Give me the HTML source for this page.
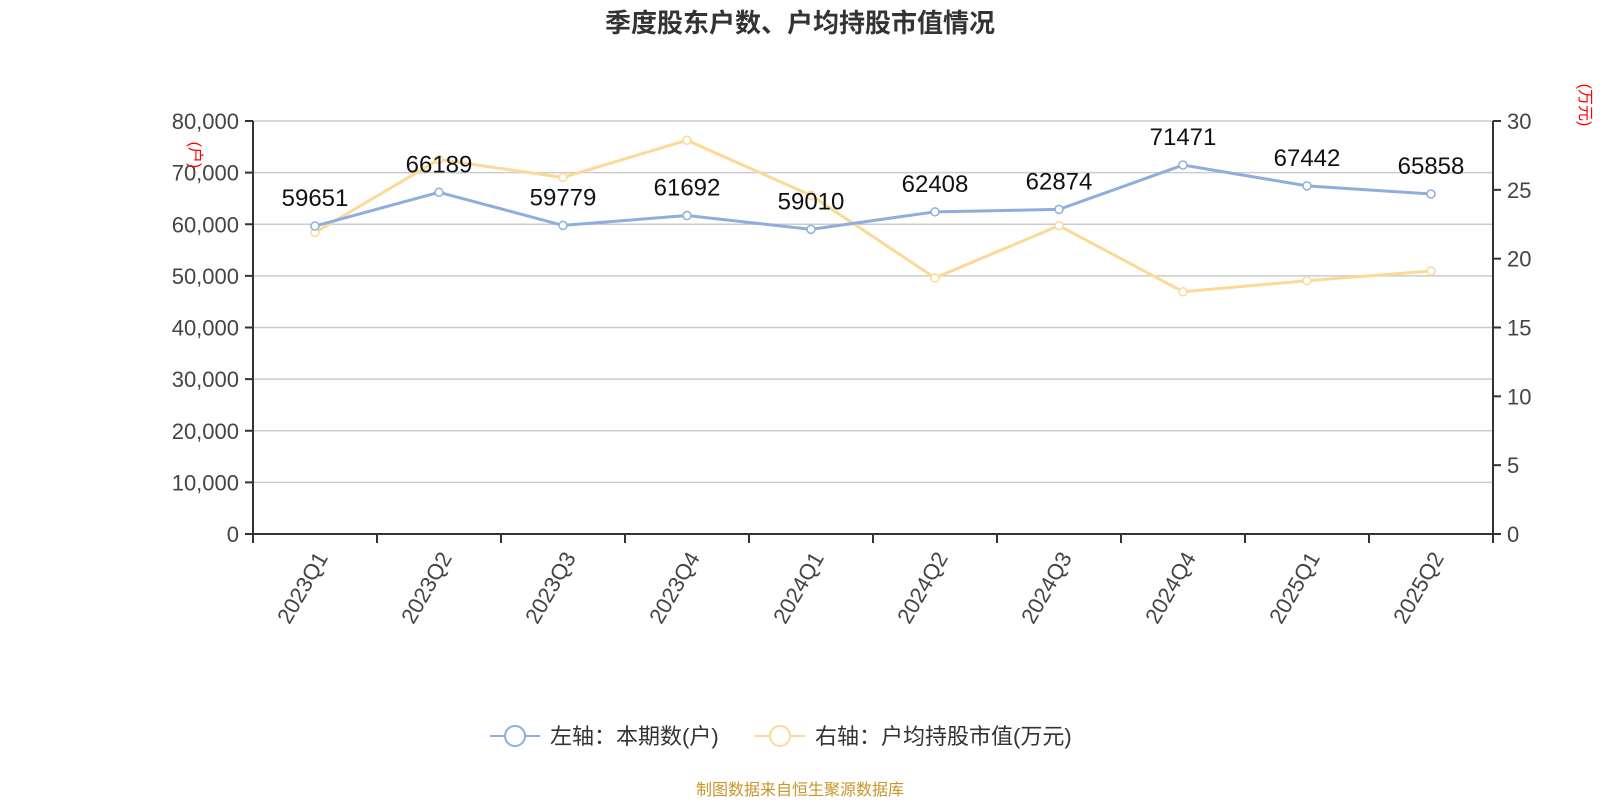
<!DOCTYPE html>
<html><head><meta charset="utf-8"><style>
body{margin:0;background:#fff;width:1600px;height:800px;overflow:hidden;font-family:"Liberation Sans","Noto Sans CJK SC",sans-serif}
</style></head><body>
<svg width="1600" height="800" xmlns="http://www.w3.org/2000/svg" style="font-family:'Liberation Sans','Noto Sans CJK SC',sans-serif">
<text x="800" y="32" text-anchor="middle" font-size="26" font-weight="bold" fill="#333">季度股东户数、户均持股市值情况</text>
<g id="grid"></g><g id="axes"></g><g id="series"></g>
<text x="1580" y="105" font-size="16" fill="red" transform="rotate(90 1580 105)" text-anchor="middle">(万元)</text>
<text x="190" y="155" font-size="16" fill="red" transform="rotate(90 190 155)" text-anchor="middle">(户)</text>
<g>
<g><line x1="490" y1="736" x2="540" y2="736" stroke="#8eaedd" stroke-width="2"/><circle cx="515" cy="736" r="10" fill="#fff" stroke="#8eaedd" stroke-width="2"/><text x="550" y="744" font-size="22" fill="#333">左轴：本期数(户)</text></g>
<g><line x1="755" y1="736" x2="805" y2="736" stroke="#fcd997" stroke-width="2"/><circle cx="780" cy="736" r="10" fill="#fff" stroke="#fcd997" stroke-width="2"/><text x="815" y="744" font-size="22" fill="#333">右轴：户均持股市值(万元)</text></g>
</g>
<text x="800" y="795" text-anchor="middle" font-size="16" fill="#c8962a">制图数据来自恒生聚源数据库</text>
</svg>
<script>
const categories=["2023Q1","2023Q2","2023Q3","2023Q4","2024Q1","2024Q2","2024Q3","2024Q4","2025Q1","2025Q2"];
const holders=[59651,66189,59779,61692,59010,62408,62874,71471,67442,65858];
const avgValue=[21.9,27.2,25.9,28.6,24.6,18.6,22.4,17.6,18.4,19.1];
const leftTicks=[0,10000,20000,30000,40000,50000,60000,70000,80000];
const rightTicks=[0,5,10,15,20,25,30];
const NS="http://www.w3.org/2000/svg";
const X0=253,X1=1493,Y0=534,Y1=121;
const bw=(X1-X0)/categories.length;
const xc=i=>X0+bw*(i+0.5);
const yl=v=>Y0-(v/80000)*(Y0-Y1);
const yr=v=>Y0-(v/30)*(Y0-Y1);
function mk(t,a,p){const e=document.createElementNS(NS,t);for(const k in a)e.setAttribute(k,a[k]);p.appendChild(e);return e;}
const grid=document.getElementById('grid'),axes=document.getElementById('axes'),series=document.getElementById('series');
leftTicks.forEach(v=>{
 const l=mk('line',{x1:X0,x2:X1,y1:yl(v),y2:yl(v),stroke:'#ccc','stroke-width':1.5},grid);
 
 
 mk('line',{x1:X0-8,x2:X0,y1:yl(v),y2:yl(v),stroke:'#333','stroke-width':2},axes);
 const t=mk('text',{x:X0-14,y:yl(v)+8,'text-anchor':'end','font-size':22,fill:'#444'},axes);
 t.textContent=v.toLocaleString('en-US');
 
 
});
rightTicks.forEach(v=>{
 mk('line',{x1:X1,x2:X1+8,y1:yr(v),y2:yr(v),stroke:'#333','stroke-width':2},axes);
 const t=mk('text',{x:X1+14,y:yr(v)+8,'font-size':22,fill:'#444'},axes);
 t.textContent=v;
 
 
});
mk('line',{x1:X0,x2:X0,y1:Y1,y2:Y0,stroke:'#333','stroke-width':2},axes);
mk('line',{x1:X1,x2:X1,y1:Y1,y2:Y0,stroke:'#333','stroke-width':2},axes);
mk('line',{x1:X0,x2:X1,y1:Y0,y2:Y0,stroke:'#333','stroke-width':2},axes);
for(let i=0;i<=categories.length;i++)mk('line',{x1:X0+bw*i,x2:X0+bw*i,y1:Y0,y2:Y0+9,stroke:'#333','stroke-width':2},axes);
categories.forEach((c,i)=>{
 const x=xc(i)+4,y=Y0+18;
 const t=mk('text',{x:x,y:y,'text-anchor':'end','font-size':22,fill:'#444',transform:`rotate(-60 ${x} ${y})`,dy:'0.5em'},axes);
 t.textContent=c;
 
 
});
function line(vals,fy,color,name){
 const p=mk('polyline',{points:vals.map((v,i)=>xc(i)+','+fy(v)).join(' '),fill:'none',stroke:color,'stroke-width':3},series);
 
 
 vals.forEach((v,i)=>{
  const c=mk('circle',{cx:xc(i),cy:fy(v),r:4,fill:'#fff',stroke:color,'stroke-width':1.5},series);
  
  
 });
}
line(avgValue,yr,'#fcd997','avg-value');
line(holders,yl,'#8eaedd','holders');
holders.forEach((v,i)=>{
 const t=mk('text',{x:xc(i),y:yl(v)-20,'text-anchor':'middle','font-size':24,fill:'#111'},series);
 t.textContent=v;
 
 
});
</script>
</body></html>
